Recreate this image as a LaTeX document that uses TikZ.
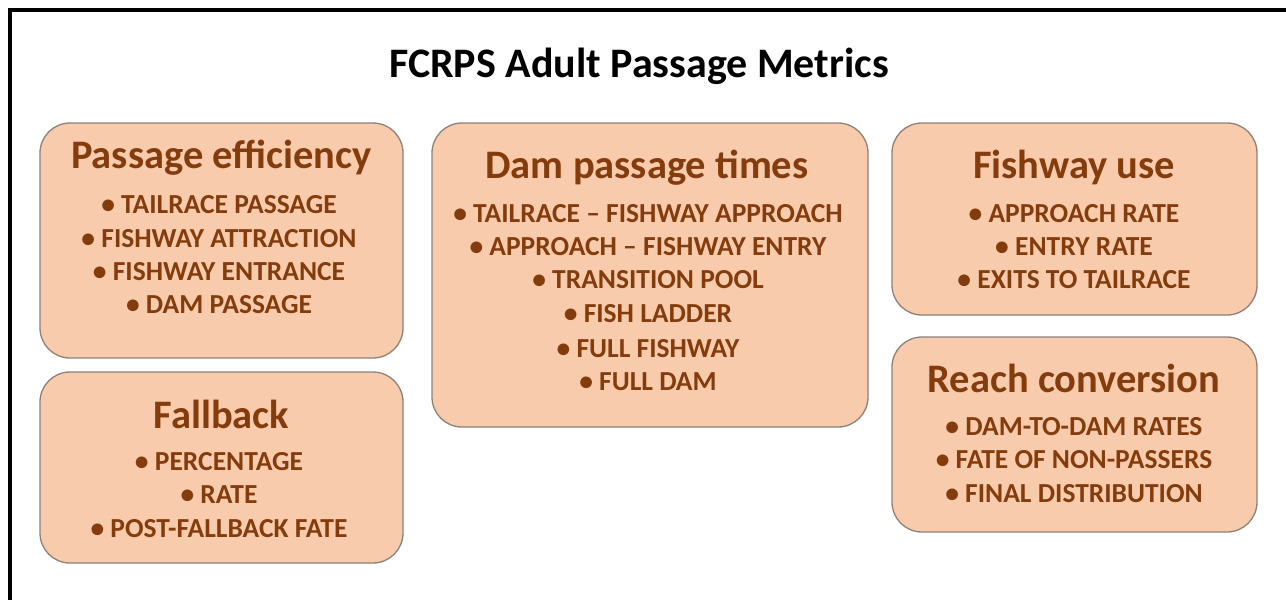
\documentclass[tikz,border=0pt]{standalone}
\usepackage{fontspec}
\setmainfont{Carlito}
\definecolor{boxfill}{HTML}{F8CBAD}
\definecolor{boxtext}{HTML}{843C0C}
\definecolor{boxline}{HTML}{8C8279}
\begin{document}
\begin{tikzpicture}[x=1pt,y=-1pt,
  panel/.style={draw=boxline, line width=1.3pt, fill=boxfill,
    rounded corners=30pt, inner sep=0pt, outer sep=0pt},
  heading/.style={anchor=base, text=boxtext, inner sep=0pt,
    font=\bfseries\fontsize{40.5}{46}\selectfont},
  entry/.style={anchor=base, text=boxtext, inner sep=0pt,
    font=\bfseries\fontsize{27.5}{32}\selectfont},
  maintitle/.style={anchor=base, text=black, inner sep=0pt,
    font=\bfseries\fontsize{42}{50}\selectfont}]
\useasboundingbox (0,0) rectangle (1286,600);
\fill[white] (0,0) rectangle (1286,600);
% frame along the left and top edges
\draw[line width=4pt, line cap=rect] (10,600) -- (10,10) -- (1286,10);

\node[maintitle] (title) at (639,77) {FCRPS Adult Passage Metrics};

% panels
\node[panel, minimum width=363pt, minimum height=235pt] (eff) at (221.5,240.5) {};
\node[panel, minimum width=363pt, minimum height=191pt] (fall) at (221.5,467.5) {};
\node[panel, minimum width=436pt, minimum height=304pt] (dam) at (650,275) {};
\node[panel, minimum width=365pt, minimum height=192pt] (fish) at (1074.5,219) {};
\node[panel, minimum width=365pt, minimum height=195pt] (reach) at (1074.5,434.5) {};

% Passage efficiency
\node[heading] (effh) at (221.5,168) {Passage efficiency};
\node[entry] (eff1) at (219,213) {• TAILRACE PASSAGE};
\node[entry] (eff2) at (219,247) {• FISHWAY ATTRACTION};
\node[entry] (eff3) at (219,280) {• FISHWAY ENTRANCE};
\node[entry] (eff4) at (219,313) {• DAM PASSAGE};

% Fallback
\node[heading] (fallh) at (221.5,428) {Fallback};
\node[entry] (fall1) at (219,470) {• PERCENTAGE};
\node[entry] (fall2) at (219,503) {• RATE};
\node[entry] (fall3) at (219,537) {• POST-FALLBACK FATE};

% Dam passage times
\node[heading] (damh) at (647,178) {Dam passage times};
\node[entry] (dam1) at (648,222) {• TAILRACE – FISHWAY APPROACH};
\node[entry] (dam2) at (648,255) {• APPROACH – FISHWAY ENTRY};
\node[entry] (dam3) at (648,288) {• TRANSITION POOL};
\node[entry] (dam4) at (648,322) {• FISH LADDER};
\node[entry] (dam5) at (648,357) {• FULL FISHWAY};
\node[entry] (dam6) at (648,390) {• FULL DAM};

% Fishway use
\node[heading] (fishh) at (1074,178) {Fishway use};
\node[entry] (fish1) at (1074,222) {• APPROACH RATE};
\node[entry] (fish2) at (1074,255) {• ENTRY RATE};
\node[entry] (fish3) at (1074,288) {• EXITS TO TAILRACE};

% Reach conversion
\node[heading] (reachh) at (1074,392) {Reach conversion};
\node[entry] (reach1) at (1074,435) {• DAM-TO-DAM RATES};
\node[entry] (reach2) at (1074,468) {• FATE OF NON-PASSERS};
\node[entry] (reach3) at (1074,502) {• FINAL DISTRIBUTION};
\end{tikzpicture}
\end{document}
